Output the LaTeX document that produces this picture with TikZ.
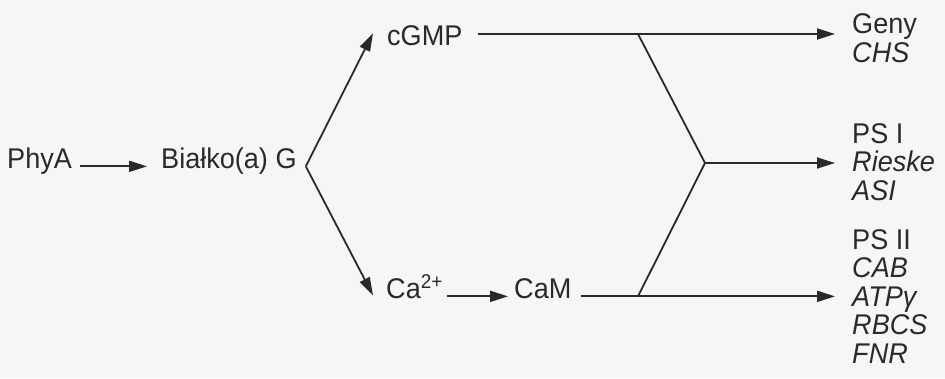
\documentclass[tikz,border=0pt]{standalone}
\usepackage{fontspec}
\setmainfont{Liberation Sans}[FakeStretch=0.95]
\usetikzlibrary{arrows.meta}
\definecolor{ink}{HTML}{2A2A2A}
\definecolor{paper}{HTML}{F6F6F6}
\tikzset{
  lbl/.style={inner sep=0pt, text=ink, anchor=base west,
    font=\fontsize{28.5}{28.5}\selectfont},
  grp/.style={lbl, align=left},
  wire/.style={draw=ink, line width=1.8pt},
  arr/.style={wire, -{Triangle[length=18pt,width=11pt]}},
}
\begin{document}
\begin{tikzpicture}[x=1pt,y=-1pt]
  % canvas
  \fill[paper] (0,0) rectangle (945,378);
  \useasboundingbox (0,0) rectangle (945,378);

  % signalling chain
  \node[lbl] (phya)   at (7,168)   {PhyA};
  \node[lbl] (bialko) at (161,168) {Białko(a) G};
  \node[lbl] (cgmp)   at (387,45)  {cGMP};
  \node[lbl] (ca)     at (386,298) {Ca\textsuperscript{2+}};
  \node[lbl] (cam)    at (514,298) {CaM};

  % target genes (anchored at the baseline of their last line)
  \node[grp] (geny) at (852,62)  {Geny\\\itshape CHS};
  \node[grp] (ps1)  at (852,200) {PS I\\\itshape Rieske\\\itshape ASI};
  \node[grp] (ps2)  at (852,363) {PS II\\\itshape CAB\\\itshape ATPγ\\\itshape RBCS\\\itshape FNR};

  % branch and merge points
  \coordinate (split) at ([xshift=9pt,yshift=-1pt]bialko.mid east);
  \coordinate (j1) at (638,34);
  \coordinate (j2) at (705,163);
  \coordinate (j3) at ([yshift=-1pt]cam.mid east -| j1);

  \draw[arr] ([xshift=8pt,yshift=-1pt]phya.mid east) -- ([xshift=-14pt,yshift=-1pt]bialko.mid west);
  \draw[arr] (split) -- ([xshift=-14pt,yshift=2pt]cgmp.west);
  \draw[arr] (split) -- ([xshift=-13pt]ca.mid west);
  \draw[arr] ([xshift=4pt,yshift=-1pt]ca.mid east) -- ([xshift=-6pt,yshift=-1pt]cam.mid west);

  \draw[arr] ([xshift=15pt]cgmp.east |- j1) -- ([xshift=-17pt]geny.west |- j1);
  \draw[arr] (j2) -- ([xshift=-17pt]ps1.west |- j2);
  \draw[arr] (j3 -| cam.east) ++(9,0) -- ([xshift=-17pt]ps2.west |- j3);
  \draw[wire] (j1) -- (j2) -- (j3);
\end{tikzpicture}
\end{document}
